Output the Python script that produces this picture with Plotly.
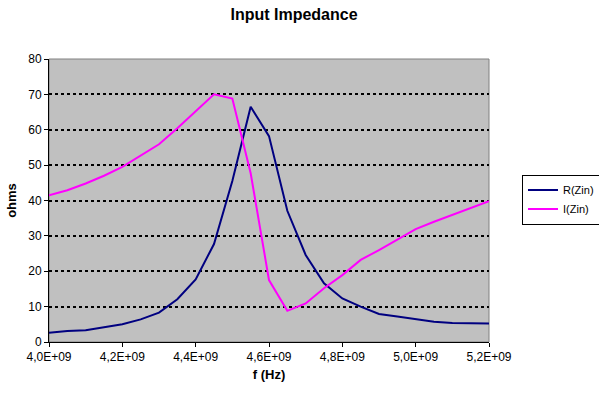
import plotly.graph_objects as go

freq_ghz = [4.00, 4.05, 4.10, 4.15, 4.20, 4.25, 4.30, 4.35, 4.40, 4.45, 4.50, 4.55, 4.60,
            4.65, 4.70, 4.75, 4.80, 4.85, 4.90, 4.95, 5.00, 5.05, 5.10, 5.15, 5.20]
r_zin = [2.6, 3.1, 3.3, 4.1, 5.0, 6.4, 8.3, 12.1, 17.7, 27.7, 45.5, 66.5, 58.2,
         37.1, 24.6, 16.6, 12.3, 10.0, 7.9, 7.2, 6.4, 5.7, 5.4, 5.2, 5.2]
i_zin = [41.5, 42.9, 44.8, 47.0, 49.5, 52.6, 55.9, 60.4, 65.1, 70.0, 68.8, 47.7, 17.5,
         8.8, 10.9, 15.2, 18.9, 23.2, 26.0, 29.0, 31.9, 34.0, 35.9, 37.8, 39.8]
x_tick_vals_ghz = [4.0, 4.2, 4.4, 4.6, 4.8, 5.0, 5.2]
x_tick_text = ["4,0E+09", "4,2E+09", "4,4E+09", "4,6E+09", "4,8E+09", "5,0E+09", "5,2E+09"]
y_tick_vals = [0, 10, 20, 30, 40, 50, 60, 70, 80]

freq_hz = [f * 1e9 for f in freq_ghz]
x_tick_vals = [f * 1e9 for f in x_tick_vals_ghz]

font_family = "Liberation Sans, Arial, sans-serif"

fig = go.Figure()
fig.add_trace(go.Scatter(x=freq_hz, y=r_zin, mode="lines", name="R(Zin)",
                         line=dict(color="#000080", width=2)))
fig.add_trace(go.Scatter(x=freq_hz, y=i_zin, mode="lines", name="I(Zin)",
                         line=dict(color="#FF00FF", width=2)))

fig.update_layout(
    width=599, height=396,
    margin=dict(l=49, r=110, t=59, b=54, autoexpand=False),
    paper_bgcolor="white",
    plot_bgcolor="#C0C0C0",
    font=dict(family=font_family, size=12, color="black"),
    title=dict(text="<b>Input Impedance</b>", x=294 / 599, xanchor="center",
               y=1 - 14 / 396, yanchor="middle", font=dict(size=16), automargin=False),
    showlegend=True,
    legend=dict(x=(522 - 49) / 440, y=0.5035, xanchor="left", yanchor="middle",
                bordercolor="black", borderwidth=1, bgcolor="white",
                font=dict(size=11), tracegroupgap=0, itemwidth=30),
    xaxis=dict(range=[4.0e9, 5.2e9], tickmode="array", tickvals=x_tick_vals,
               ticktext=x_tick_text, showgrid=False, zeroline=False,
               showline=True, linecolor="black", linewidth=1,
               ticks="outside", ticklen=4, tickcolor="black", automargin=False,
               tickfont=dict(size=12),
               title=dict(text="<b>f (Hz)</b>", font=dict(size=13), standoff=6)),
    yaxis=dict(range=[0, 80], tickmode="array", tickvals=y_tick_vals,
               showgrid=True, gridcolor="black", gridwidth=2, griddash="3px,3px",
               zeroline=False, showline=True, linecolor="black", linewidth=1,
               ticks="outside", ticklen=4, tickcolor="black", automargin=False,
               tickfont=dict(size=12),
               title=dict(text="<b>ohms</b>", font=dict(size=13), standoff=8)),
)

fig.add_shape(type="rect", xref="paper", yref="paper", x0=0, y0=0, x1=1, y1=1,
              line=dict(color="#808080", width=1), layer="below")

fig.write_html("out.html", config={"displayModeBar": False},
               post_script="document.body.style.margin='0';document.body.style.overflow='hidden';")
